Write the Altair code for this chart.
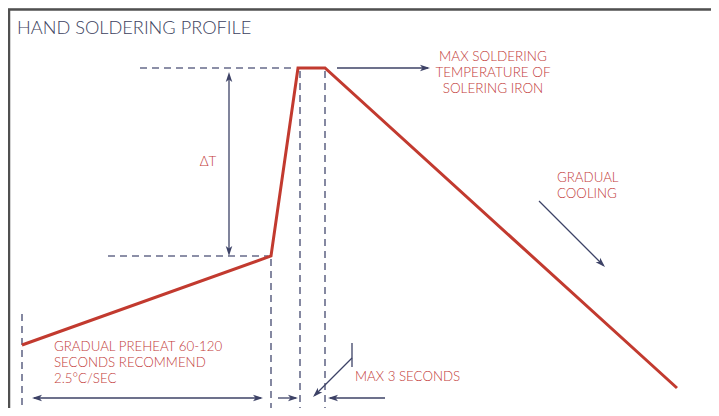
import altair as alt
import pandas as pd

# ---- values (picture units: x = time axis, y = level, top = hot) ----
profile_time = [22, 271, 298, 325, 677]
profile_level = [345, 256, 68, 68, 388]

# dashed guide lines (x1, y1, x2, y2)
dash_x1 = [140, 108, 22, 271, 300, 325]
dash_y1 = [68, 256, 314, 259, 71, 71]
dash_x2 = [296, 268, 22, 271, 300, 325]
dash_y2 = [68, 256, 408, 408, 408, 408]

# solid annotation lines
line_x1 = [229, 34, 278, 330, 352, 352, 337, 539]
line_y1 = [75, 398, 398, 398, 358, 343, 68, 201]
line_x2 = [229, 261, 296, 385, 315, 352, 428, 603]
line_y2 = [253, 398, 398, 398, 395, 367, 68, 265]

# arrow heads (tip position, direction in degrees clockwise from right)
head_x = [229, 229, 32, 263, 298, 328, 313, 430, 605]
head_y = [72, 256, 398, 398, 398, 398, 397, 68, 267]
head_dir = [270, 90, 180, 0, 0, 180, 135, 0, 45]

# frame
frame_x1 = [8, 9]
frame_y1 = [9.5, 9]
frame_x2 = [711, 9]
frame_y2 = [9.5, 408]

# texts
left_text = ["GRADUAL", "COOLING", "GRADUAL PREHEAT 60-120", "SECONDS RECOMMEND",
             "2.5°C/SEC", "MAX 3 SECONDS"]
left_x = [557, 557, 54, 54, 54, 355]
left_y = [182, 198, 351, 367, 383, 381]

center_text = ["MAX SOLDERING", "TEMPERATURE OF", "SOLERING IRON", "ΔT"]
center_x = [493, 493, 493, 208]
center_y = [61, 77, 92.5, 166]

title_text = ["HAND SOLDERING PROFILE"]
title_x = [17]
title_y = [34]

RED_LINE = "#c23a2f"
RED_TEXT = "#c23a38"
NAVY = "#3d4266"
DASH = "#676b8a"
FONT = "Lato"

xs = alt.Scale(domain=[8, 711], nice=False, zero=False)
ys = alt.Scale(domain=[8, 408], nice=False, zero=False, reverse=True)


def X(f):
    return alt.X(f, type="quantitative", scale=xs, axis=None)


def Y(f):
    return alt.Y(f, type="quantitative", scale=ys, axis=None)


profile = pd.DataFrame({"t": profile_time, "v": profile_level, "o": range(len(profile_time))})
dashes = pd.DataFrame({"x": dash_x1, "y": dash_y1, "x2": dash_x2, "y2": dash_y2})
lines = pd.DataFrame({"x": line_x1, "y": line_y1, "x2": line_x2, "y2": line_y2})
heads = pd.DataFrame({"x": head_x, "y": head_y, "a": head_dir})
frame = pd.DataFrame({"x": frame_x1, "y": frame_y1, "x2": frame_x2, "y2": frame_y2})
ltext = pd.DataFrame({"x": left_x, "y": left_y, "t": left_text})
ctext = pd.DataFrame({"x": center_x, "y": center_y, "t": center_text})
ttext = pd.DataFrame({"x": title_x, "y": title_y, "t": title_text})

frame_layer = alt.Chart(frame).mark_rule(color="#505050", strokeWidth=2.5).encode(
    x=X("x"), y=Y("y"), x2="x2", y2="y2")

dash_layer = alt.Chart(dashes).mark_rule(color=DASH, strokeWidth=1.6, strokeDash=[7, 5]).encode(
    x=X("x"), y=Y("y"), x2="x2", y2="y2")

line_layer = alt.Chart(lines).mark_rule(color=NAVY, strokeWidth=1.3).encode(
    x=X("x"), y=Y("y"), x2="x2", y2="y2")

head_layer = alt.Chart(heads).mark_point(
    shape="M0,0L-2,-0.65L-1.5,0L-2,0.65Z", filled=True, color=NAVY, opacity=1,
    size=100, strokeWidth=0).encode(
    x=X("x"), y=Y("y"), angle=alt.Angle("a:Q", scale=None))

profile_layer = alt.Chart(profile).mark_line(color=RED_LINE, strokeWidth=3, strokeJoin="miter").encode(
    x=X("t"), y=Y("v"), order="o:Q")

ltext_layer = alt.Chart(ltext).mark_text(
    align="left", baseline="alphabetic", font=FONT, fontSize=13.3, fontWeight=300,
    color=RED_TEXT).encode(
    x=X("x"), y=Y("y"), text="t:N")

ctext_layer = alt.Chart(ctext).mark_text(
    align="center", baseline="alphabetic", font=FONT, fontSize=13.5, fontWeight=300,
    color=RED_TEXT).encode(
    x=X("x"), y=Y("y"), text="t:N")

title_layer = alt.Chart(ttext).mark_text(
    align="left", baseline="alphabetic", font=FONT, fontSize=18.2, fontWeight=300,
    color="#3c3f5e").encode(
    x=X("x"), y=Y("y"), text="t:N")

chart = alt.layer(
    frame_layer, dash_layer, line_layer, head_layer, profile_layer,
    ltext_layer, ctext_layer, title_layer
).properties(
    width=703, height=400, padding=0, autosize=alt.AutoSizeParams(type="none")
).configure_view(stroke=None).configure(background="white")

chart.save("out.html", embed_options={"renderer": "svg", "actions": False})
